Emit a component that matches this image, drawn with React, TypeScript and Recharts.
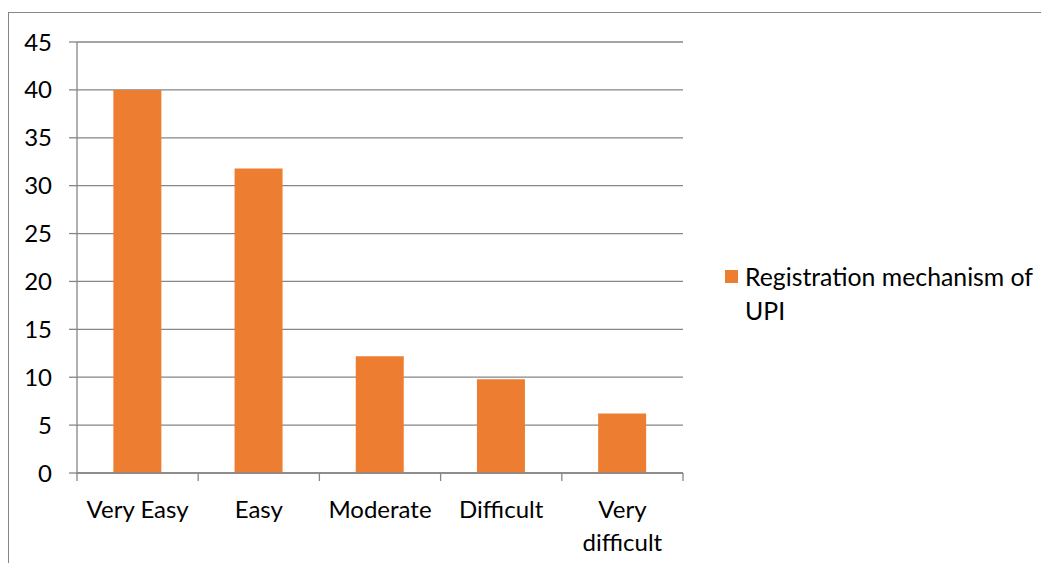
import { Bar, BarChart, CartesianGrid, Legend, XAxis, YAxis } from "recharts";

const categories = ["Very Easy", "Easy", "Moderate", "Difficult", "Very difficult"];
const categoryLines = [["Very Easy"], ["Easy"], ["Moderate"], ["Difficult"], ["Very", "difficult"]];
const registrationValues = [40, 31.8, 12.2, 9.8, 6.2];
const yTicks = [0, 5, 10, 15, 20, 25, 30, 35, 40, 45];
const seriesName = "Registration mechanism of UPI";

const rows = categories.map((name, i) => ({ name, value: registrationValues[i] }));

const FONT = "Lato, 'Open Sans', sans-serif";
const AXIS = "#868686";
const BAR = "#ED7D31";
const TICK_SIZE = 8;
const TICK_MARGIN = 20;

// category label plus tick marks on the band edges (Excel style)
function CategoryTick({ x, y, index, payload, width, visibleTicksCount }: any) {
  const lines = categoryLines[index] ?? [categories[index]];
  const half = payload?.offset ?? width / visibleTicksCount / 2;
  const axisY = y - TICK_SIZE - TICK_MARGIN;
  const edges = index === visibleTicksCount - 1 ? [x - half, x + half] : [x - half];
  return (
    <g>
      {edges.map((ex, i) => (
        <line key={i} x1={ex} x2={ex} y1={axisY} y2={axisY + TICK_SIZE} stroke={AXIS} strokeWidth={1.3} />
      ))}
      <text x={x} y={y} textAnchor="middle" fontSize={24} fontFamily={FONT} fill="#000">
        {lines.map((line, i) => (
          <tspan key={i} x={x} dy={i === 0 ? "0.71em" : 33}>
            {line}
          </tspan>
        ))}
      </text>
    </g>
  );
}

function SeriesLegend() {
  return (
    <div style={{ position: "relative", paddingLeft: 20, width: 320, fontFamily: FONT, fontSize: 24.8, lineHeight: "34px", color: "#000" }}>
      <span style={{ position: "absolute", left: 0, top: 10, width: 13, height: 13, background: BAR }} />
      {seriesName}
    </div>
  );
}

export default function App() {
  return (
    <div style={{ marginTop: 4, width: 1041, height: 551, borderTop: `1px solid ${AXIS}`, borderLeft: `1px solid ${AXIS}`, background: "#fff" }}>
      <style>{`body{overflow:hidden}`}</style>
      <BarChart width={1040} height={550} data={rows} margin={{ top: 29, right: 366, bottom: 10, left: 0 }} barCategoryGap="30%">
        <CartesianGrid vertical={false} stroke={AXIS} strokeWidth={1.3} />
        <XAxis
          dataKey="name"
          height={80}
          tickSize={TICK_SIZE}
          tickMargin={TICK_MARGIN}
          tickLine={false}
          axisLine={{ stroke: AXIS, strokeWidth: 1.3 }}
          interval={0}
          tick={<CategoryTick />}
        />
        <YAxis
          width={68}
          domain={[0, 45]}
          ticks={yTicks}
          interval={0}
          tickSize={8}
          tickMargin={17}
          tickLine={{ stroke: AXIS, strokeWidth: 1.3 }}
          axisLine={{ stroke: AXIS, strokeWidth: 1.3 }}
          tick={{ fontSize: 24, fontFamily: FONT, fill: "#000" }}
        />
        <Legend
          layout="vertical"
          align="center"
          verticalAlign="middle"
          content={<SeriesLegend />}
          wrapperStyle={{ left: 716, top: 247, width: 340 }}
        />
        <Bar dataKey="value" name={seriesName} fill={BAR} isAnimationActive={false} />
      </BarChart>
    </div>
  );
}
